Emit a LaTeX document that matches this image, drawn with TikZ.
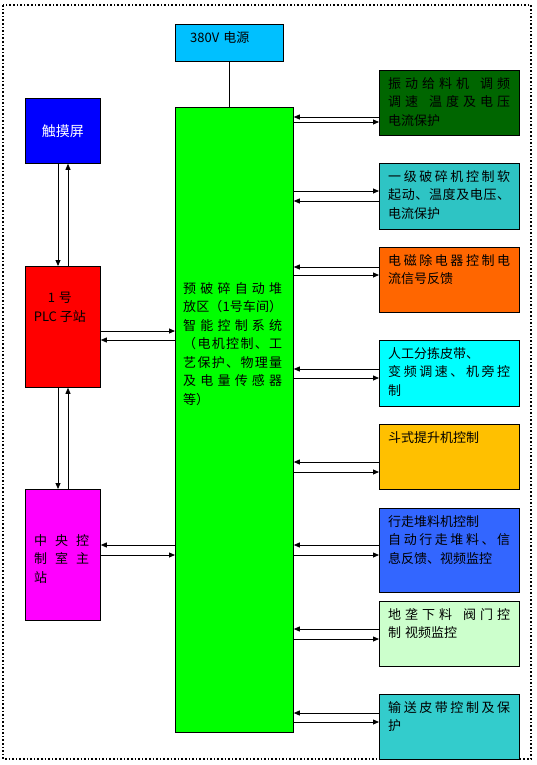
\documentclass[tikz,border=0pt]{standalone}
\usepackage{fontspec}
\setmainfont{Noto Sans CJK SC}
\usepackage{tikz}
\usetikzlibrary{arrows.meta}
\definecolor{pwrblue}{HTML}{00C0FF}
\definecolor{touchblue}{HTML}{0000FF}
\definecolor{plcred}{HTML}{FF0000}
\definecolor{hostpink}{HTML}{FF00FF}
\definecolor{coregreen}{HTML}{00FF00}
\definecolor{feedgreen}{HTML}{006600}
\definecolor{crushteal}{HTML}{2EC4C4}
\definecolor{magorange}{HTML}{FF6600}
\definecolor{sortcyan}{HTML}{00FFFF}
\definecolor{liftgold}{HTML}{FFC000}
\definecolor{stackblue}{HTML}{3366FF}
\definecolor{valvegreen}{HTML}{CCFFCC}
\definecolor{beltteal}{HTML}{33CCCC}
% spread the characters of one line over a given width
\newcommand\spreadln[2]{\hbox to #1{\spreadA#2\relax}}
\def\spreadA#1{#1\futurelet\spreadnext\spreadB}
\def\spreadB{\ifx\spreadnext\relax\expandafter\spreadC\else\hfil\expandafter\spreadA\fi}
\def\spreadC\relax{}
\tikzset{
    every node/.style={font=\fontsize{13}{18.5}\selectfont},
    blk/.style={draw=black,line width=0.8pt,anchor=north west,inner sep=0pt},
    side/.style={blk,minimum width=140pt,minimum height=65pt},
    txt/.style={anchor=north west,inner sep=0pt,align=left},
    link/.style={draw,line width=0.8pt,-{Triangle[length=6pt,width=5pt]}}
}

\begin{document}
\begin{tikzpicture}[x=1pt,y=-1pt]
\useasboundingbox (0,0) rectangle (536,765);
\draw[dotted,line width=1.6pt] (3,5) rectangle (531,759);

\node[blk,fill=pwrblue,minimum width=108pt,minimum height=37pt] (pwr) at (175,24) {};
\node[anchor=west,inner sep=0pt] (pwrt) at ([shift={(15,-5)}]pwr.west) {380V\hspace{4pt}电源};
\node[blk,fill=coregreen,minimum width=118pt,minimum height=625pt] (core) at (175,107) {};
\node[txt] (coret) at ([shift={(8,175)}]core.north west)
 {\spreadln{99pt}{预破碎自动堆}\\ \spreadln{99pt}{放区（1号车间）}\\
  \spreadln{99pt}{智能控制系统}\\ \spreadln{99pt}{（电机控制、工}\\
  \spreadln{99pt}{艺保护、物理量}\\ \spreadln{99pt}{及电量传感器}\\ 等）};

\node[blk,fill=touchblue,text=white,font=\fontsize{14}{16}\selectfont,
 minimum width=75pt,minimum height=65pt] (touch) at (25,98) {触摸屏};
\node[blk,fill=plcred,minimum width=75pt,minimum height=121pt] (plc) at (25,266) {};
\node[align=center,anchor=north,inner sep=0pt] (plct) at ([shift={(-3,26)}]plc.north)
 {1\hspace{4pt}号\\PLC\hspace{3pt}子站};
\node[blk,fill=hostpink,minimum width=75pt,minimum height=131pt] (host) at (25,489) {};
\node[txt] (hostt) at ([shift={(9,45)}]host.north west)
 {\spreadln{55pt}{中央控}\\ \spreadln{55pt}{制室主}\\ 站};

\node[side,fill=feedgreen] (b1) at (379,70) {};
\node[txt] (b1t) at ([shift={(9,7)}]b1.north west)
 {\spreadln{122pt}{振动给料机~调频}\\ \spreadln{122pt}{调速~温度及电压}\\ 电流保护};
\node[side,fill=crushteal,minimum height=66pt] (b2) at (379,163) {};
\node[txt] (b2t) at ([shift={(9,7)}]b2.north west)
 {\spreadln{122pt}{一级破碎机控制软}\\ \spreadln{122pt}{起动、温度及电压、}\\ 电流保护};
\node[side,fill=magorange] (b3) at (379,247) {};
\node[txt] (b3t) at ([shift={(9,7)}]b3.north west)
 {\spreadln{122pt}{电磁除电器控制电}\\ 流信号反馈};
\node[side,fill=sortcyan,minimum height=66pt] (b4) at (379,340) {};
\node[txt] (b4t) at ([shift={(9,7)}]b4.north west)
 {人工分拣皮带、\\ \spreadln{122pt}{变频调速、机旁控}\\ 制};
\node[side,fill=liftgold] (b5) at (379,424) {};
\node[txt] (b5t) at ([shift={(9,7)}]b5.north west) {斗式提升机控制};
\node[side,fill=stackblue,minimum height=84pt] (b6) at (379,508) {};
\node[txt] (b6t) at ([shift={(9,7)}]b6.north west)
 {行走堆料机控制\\ \spreadln{122pt}{自动行走堆料、信}\\ 息反馈、视频监控};
\node[side,fill=valvegreen] (b7) at (379,601) {};
\node[txt] (b7t) at ([shift={(9,7)}]b7.north west)
 {\spreadln{122pt}{地垄下料~阀门控}\\ 制\hspace{4pt}视频监控};
\node[side,fill=beltteal] (b8) at (379,694) {};
\node[txt] (b8t) at ([shift={(9,7)}]b8.north west)
 {\spreadln{122pt}{输送皮带控制及保}\\ 护};

\draw[line width=0.8pt] (pwr.south) -- (core.north -| pwr.south);

\draw[link] (touch.south -| 58,0) -- (plc.north -| 58,0);
\draw[link] (plc.north -| 68,0) -- (touch.south -| 68,0);
\draw[link] (plc.south -| 58,0) -- (host.north -| 58,0);
\draw[link] (host.north -| 68,0) -- (plc.south -| 68,0);
\draw[link] (plc.east |- 0,331) -- (core.west |- 0,331);
\draw[link] (core.west |- 0,340) -- (plc.east |- 0,340);
\draw[link] (core.west |- 0,545) -- (host.east |- 0,545);
\draw[link] (host.east |- 0,555) -- (core.west |- 0,555);

\foreach \b/\yin/\yout in {b1/117/122,b2/201/191,b3/267/275,b4/369/378,
                           b5/462/472,b6/545/555,b7/629/639,b8/713/722}{
  \draw[link] (\b.west |- 0,\yin) -- (core.east |- 0,\yin);
  \draw[link] (core.east |- 0,\yout) -- (\b.west |- 0,\yout);
}
\end{tikzpicture}
\end{document}
